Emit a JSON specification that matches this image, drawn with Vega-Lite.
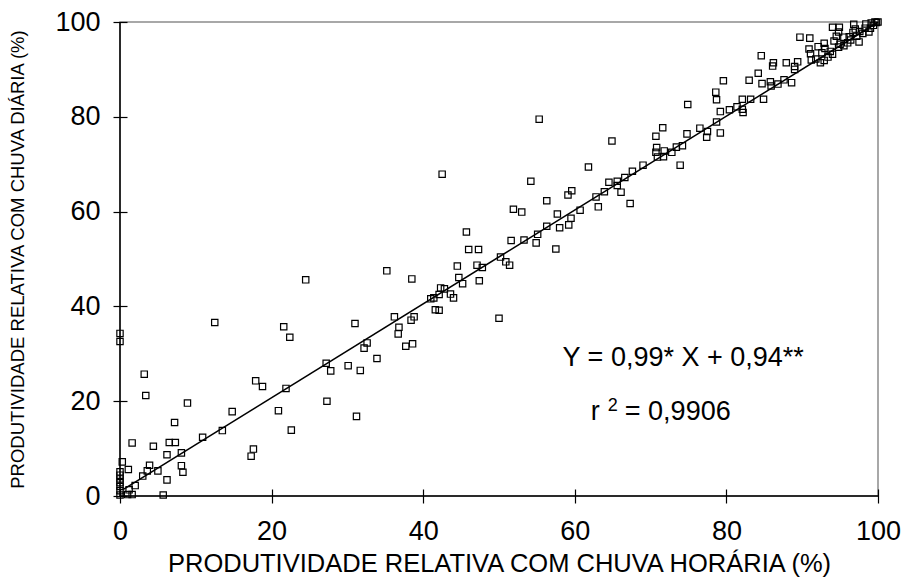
{
  "$schema": "https://vega.github.io/schema/vega-lite/v6.json",
  "width": 758,
  "height": 474,
  "autosize": {"type": "none"},
  "padding": {"left": 120, "top": 22, "right": 23, "bottom": 81},
  "background": "white",
  "config": {"view": {"stroke": "#8c8c8c", "strokeWidth": 1.5}, "font": "Liberation Sans"},
  "datasets": {
    "pts": [
      {"horaria":0,"diaria":34.3},{"horaria":0,"diaria":32.6},
      {"horaria":0,"diaria":5.1},{"horaria":0,"diaria":4.4},{"horaria":0,"diaria":3.6},{"horaria":0,"diaria":2.8},{"horaria":0,"diaria":2.0},{"horaria":0,"diaria":1.1},{"horaria":0,"diaria":0.2},
      {"horaria":0.3,"diaria":7.2},{"horaria":1.1,"diaria":5.6},{"horaria":1.0,"diaria":0.3},{"horaria":1.6,"diaria":0.3},{"horaria":5.7,"diaria":0.2},
      {"horaria":1.2,"diaria":1.3},{"horaria":2.0,"diaria":2.2},{"horaria":3.0,"diaria":4.2},{"horaria":3.6,"diaria":5.3},{"horaria":3.9,"diaria":6.5},{"horaria":5.0,"diaria":5.3},{"horaria":6.2,"diaria":3.4},{"horaria":8.1,"diaria":6.4},{"horaria":8.3,"diaria":5.0},
      {"horaria":1.6,"diaria":11.2},{"horaria":4.4,"diaria":10.5},{"horaria":6.5,"diaria":11.3},{"horaria":7.3,"diaria":11.3},{"horaria":6.2,"diaria":8.7},{"horaria":8.1,"diaria":9.1},{"horaria":7.2,"diaria":15.5},{"horaria":10.9,"diaria":12.4},{"horaria":8.9,"diaria":19.6},{"horaria":3.2,"diaria":25.7},{"horaria":3.4,"diaria":21.2},
      {"horaria":12.5,"diaria":36.6},{"horaria":21.6,"diaria":35.7},{"horaria":22.4,"diaria":33.5},{"horaria":17.9,"diaria":24.3},{"horaria":18.8,"diaria":23.1},{"horaria":21.9,"diaria":22.7},{"horaria":14.8,"diaria":17.8},{"horaria":20.9,"diaria":18.0},{"horaria":22.6,"diaria":13.9},{"horaria":13.5,"diaria":13.8},{"horaria":17.6,"diaria":9.9},{"horaria":17.3,"diaria":8.4},
      {"horaria":24.5,"diaria":45.6},{"horaria":35.2,"diaria":47.5},{"horaria":38.5,"diaria":45.8},{"horaria":31.0,"diaria":36.4},{"horaria":32.6,"diaria":32.3},{"horaria":32.2,"diaria":31.2},{"horaria":33.9,"diaria":29.0},{"horaria":27.2,"diaria":28.0},{"horaria":27.8,"diaria":26.4},{"horaria":30.1,"diaria":27.5},{"horaria":31.7,"diaria":26.5},{"horaria":27.3,"diaria":20.0},{"horaria":31.2,"diaria":16.8},
      {"horaria":36.2,"diaria":37.8},{"horaria":38.8,"diaria":37.8},{"horaria":38.4,"diaria":37.1},{"horaria":36.8,"diaria":35.6},{"horaria":36.7,"diaria":34.2},{"horaria":37.7,"diaria":31.6},{"horaria":38.6,"diaria":32.1},
      {"horaria":41.0,"diaria":41.6},{"horaria":41.4,"diaria":41.8},{"horaria":42.1,"diaria":42.5},{"horaria":42.3,"diaria":43.9},{"horaria":42.8,"diaria":43.7},{"horaria":43.6,"diaria":42.6},{"horaria":44.0,"diaria":41.8},{"horaria":41.6,"diaria":39.3},{"horaria":42.1,"diaria":39.2},
      {"horaria":44.5,"diaria":48.5},{"horaria":44.7,"diaria":46.1},{"horaria":45.2,"diaria":44.8},{"horaria":45.7,"diaria":55.7},{"horaria":46.0,"diaria":52.0},{"horaria":47.3,"diaria":52.0},{"horaria":47.1,"diaria":48.7},{"horaria":47.8,"diaria":48.2},{"horaria":47.4,"diaria":45.4},{"horaria":50.0,"diaria":37.5},{"horaria":50.2,"diaria":50.4},{"horaria":50.9,"diaria":49.4},{"horaria":51.4,"diaria":48.7},
      {"horaria":42.5,"diaria":67.9},{"horaria":55.3,"diaria":79.5},{"horaria":54.2,"diaria":66.4},{"horaria":51.9,"diaria":60.5},{"horaria":53.0,"diaria":59.9},{"horaria":51.6,"diaria":53.9},{"horaria":53.3,"diaria":54.0},{"horaria":55.1,"diaria":55.2},{"horaria":54.9,"diaria":53.4},{"horaria":56.3,"diaria":56.9},{"horaria":58.0,"diaria":56.6},{"horaria":57.5,"diaria":52.1},{"horaria":57.7,"diaria":59.5},{"horaria":59.5,"diaria":58.6},{"horaria":59.2,"diaria":57.2},{"horaria":56.3,"diaria":62.3},{"horaria":59.6,"diaria":64.4},{"horaria":59.1,"diaria":63.5},{"horaria":60.7,"diaria":60.3},{"horaria":61.8,"diaria":69.4},{"horaria":63.9,"diaria":64.2},{"horaria":62.8,"diaria":63.1},{"horaria":63.1,"diaria":61.0},{"horaria":64.9,"diaria":74.9},
      {"horaria":64.5,"diaria":66.2},{"horaria":65.6,"diaria":66.4},{"horaria":65.6,"diaria":65.5},{"horaria":66.6,"diaria":67.2},{"horaria":67.6,"diaria":68.5},{"horaria":69.0,"diaria":69.8},{"horaria":66.1,"diaria":64.1},{"horaria":67.3,"diaria":61.7},
      {"horaria":73.9,"diaria":69.8},{"horaria":70.7,"diaria":75.9},{"horaria":71.6,"diaria":77.7},{"horaria":70.8,"diaria":73.5},{"horaria":70.7,"diaria":72.5},{"horaria":70.9,"diaria":71.5},{"horaria":71.7,"diaria":71.6},{"horaria":71.8,"diaria":72.8},{"horaria":72.8,"diaria":72.5},{"horaria":73.4,"diaria":73.6},{"horaria":74.2,"diaria":73.9},
      {"horaria":74.9,"diaria":82.6},{"horaria":74.8,"diaria":76.4},{"horaria":76.5,"diaria":77.6},{"horaria":77.5,"diaria":76.9},{"horaria":77.4,"diaria":75.7},{"horaria":79.2,"diaria":76.6},{"horaria":78.7,"diaria":78.9},{"horaria":79.2,"diaria":81.1},{"horaria":80.4,"diaria":81.5},{"horaria":81.4,"diaria":82.1},{"horaria":82.1,"diaria":81.6},{"horaria":82.2,"diaria":80.9},{"horaria":82.1,"diaria":83.7},{"horaria":83.2,"diaria":83.7},{"horaria":84.9,"diaria":83.7},{"horaria":78.6,"diaria":85.2},{"horaria":78.7,"diaria":83.6},{"horaria":79.6,"diaria":87.6},{"horaria":83.0,"diaria":87.7},{"horaria":84.2,"diaria":89.2},{"horaria":84.6,"diaria":92.9},{"horaria":84.7,"diaria":87.0},{"horaria":85.8,"diaria":87.4},{"horaria":85.9,"diaria":86.5},{"horaria":86.8,"diaria":86.9},{"horaria":87.6,"diaria":87.8},{"horaria":88.6,"diaria":87.2},
      {"horaria":86.2,"diaria":91.4},{"horaria":86.1,"diaria":90.7},{"horaria":87.9,"diaria":91.4},
      {"horaria":89.0,"diaria":90.0},{"horaria":89.0,"diaria":90.6},{"horaria":89.4,"diaria":91.6},{"horaria":89.7,"diaria":96.8},{"horaria":91.0,"diaria":96.6},{"horaria":90.9,"diaria":94.3},{"horaria":91.1,"diaria":93.3},{"horaria":91.2,"diaria":92.0},{"horaria":91.8,"diaria":92.2},{"horaria":92.4,"diaria":91.4},{"horaria":92.9,"diaria":91.9},{"horaria":92.1,"diaria":94.8},{"horaria":92.9,"diaria":95.5},{"horaria":93.0,"diaria":94.4},{"horaria":92.6,"diaria":93.5},{"horaria":93.7,"diaria":93.8},{"horaria":93.4,"diaria":92.6},{"horaria":94.0,"diaria":93.2},{"horaria":94.2,"diaria":96.0},{"horaria":94.8,"diaria":94.7},{"horaria":95.0,"diaria":95.3},{"horaria":95.5,"diaria":95.0},{"horaria":96.0,"diaria":95.6},{"horaria":94.0,"diaria":98.9},{"horaria":94.9,"diaria":98.9},{"horaria":94.8,"diaria":97.9},{"horaria":94.5,"diaria":97.0},{"horaria":95.5,"diaria":96.8},{"horaria":96.2,"diaria":96.9},{"horaria":96.4,"diaria":96.2},{"horaria":97.5,"diaria":95.8},{"horaria":97.2,"diaria":97.0},{"horaria":96.8,"diaria":99.5},{"horaria":97.6,"diaria":98.0},{"horaria":96.7,"diaria":97.8},{"horaria":97.0,"diaria":98.5},{"horaria":98.0,"diaria":97.6},{"horaria":98.8,"diaria":97.9},{"horaria":98.4,"diaria":99.6},{"horaria":98.3,"diaria":98.7},{"horaria":99.0,"diaria":98.7},{"horaria":99.1,"diaria":99.8},{"horaria":99.4,"diaria":99.3},{"horaria":99.6,"diaria":100.0},{"horaria":99.8,"diaria":99.9},{"horaria":100.0,"diaria":100.0}
    ],
    "fit": [{"horaria":0.5,"diaria":1.44},{"horaria":100,"diaria":99.94}]
  },
  "layer": [
    {
      "data": {"values": [{}]},
      "mark": {"type": "rule", "color": "black", "strokeWidth": 1.5},
      "encoding": {"x": {"datum": 0, "type": "quantitative", "scale": {"domain": [0, 100], "nice": false, "zero": false}}}
    },
    {
      "data": {"values": [{}]},
      "mark": {"type": "rule", "color": "black", "strokeWidth": 1.5},
      "encoding": {"y": {"datum": 0, "type": "quantitative", "scale": {"domain": [0, 100], "nice": false, "zero": false}}}
    },
    {
      "data": {"name": "fit"},
      "mark": {"type": "line", "color": "black", "strokeWidth": 1.6},
      "encoding": {
        "x": {"field": "horaria", "type": "quantitative"},
        "y": {"field": "diaria", "type": "quantitative"}
      }
    },
    {
      "data": {"name": "pts"},
      "mark": {"type": "point", "shape": "square", "filled": false, "stroke": "black", "strokeWidth": 1.2, "size": 40, "opacity": 1},
      "encoding": {
        "x": {
          "field": "horaria", "type": "quantitative",
          "scale": {"domain": [0, 100], "nice": false, "zero": false},
          "axis": {
            "values": [0, 20, 40, 60, 80, 100], "offset": -7, "tickSize": 14, "tickColor": "black", "tickWidth": 1.2,
            "domain": false, "grid": false, "labelFontSize": 27, "labelColor": "black", "labelPadding": 15,
            "labelFont": "Liberation Sans", "labelFlush": false, "labelOverlap": false,
            "title": "PRODUTIVIDADE RELATIVA COM CHUVA HORÁRIA (%)", "titleFont": "Liberation Sans",
            "titleFontSize": 25.5, "titleFontWeight": "normal", "titleColor": "black", "titlePadding": 7
          }
        },
        "y": {
          "field": "diaria", "type": "quantitative",
          "scale": {"domain": [0, 100], "nice": false, "zero": false},
          "axis": {
            "values": [0, 20, 40, 60, 80, 100], "offset": -7, "tickSize": 14, "tickColor": "black", "tickWidth": 1.2,
            "domain": false, "grid": false, "labelFontSize": 27, "labelColor": "black", "labelPadding": 13,
            "labelFont": "Liberation Sans", "labelFlush": false, "labelOverlap": false,
            "title": "PRODUTIVIDADE RELATIVA COM CHUVA DIÁRIA (%)", "titleFont": "Liberation Sans",
            "titleFontSize": 18.5, "titleFontWeight": "normal", "titleColor": "black", "titlePadding": 27
          }
        }
      }
    },
    {
      "data": {"values": [{}]},
      "mark": {"type": "text", "fontSize": 27, "font": "Liberation Sans", "color": "black", "align": "center", "baseline": "middle"},
      "encoding": {"x": {"datum": 74.3, "type": "quantitative"}, "y": {"datum": 29.1, "type": "quantitative"}, "text": {"value": "Y = 0,99* X + 0,94**"}}
    },
    {
      "data": {"values": [{}]},
      "mark": {"type": "text", "fontSize": 27, "font": "Liberation Sans", "color": "black", "align": "center", "baseline": "middle"},
      "encoding": {"x": {"datum": 62.7, "type": "quantitative"}, "y": {"datum": 17.7, "type": "quantitative"}, "text": {"value": "r"}}
    },
    {
      "data": {"values": [{}]},
      "mark": {"type": "text", "fontSize": 18, "font": "Liberation Sans", "color": "black", "align": "center", "baseline": "middle"},
      "encoding": {"x": {"datum": 65.0, "type": "quantitative"}, "y": {"datum": 18.9, "type": "quantitative"}, "text": {"value": "2"}}
    },
    {
      "data": {"values": [{}]},
      "mark": {"type": "text", "fontSize": 27, "font": "Liberation Sans", "color": "black", "align": "left", "baseline": "middle"},
      "encoding": {"x": {"datum": 66.6, "type": "quantitative"}, "y": {"datum": 17.7, "type": "quantitative"}, "text": {"value": "= 0,9906"}}
    }
  ]
}
